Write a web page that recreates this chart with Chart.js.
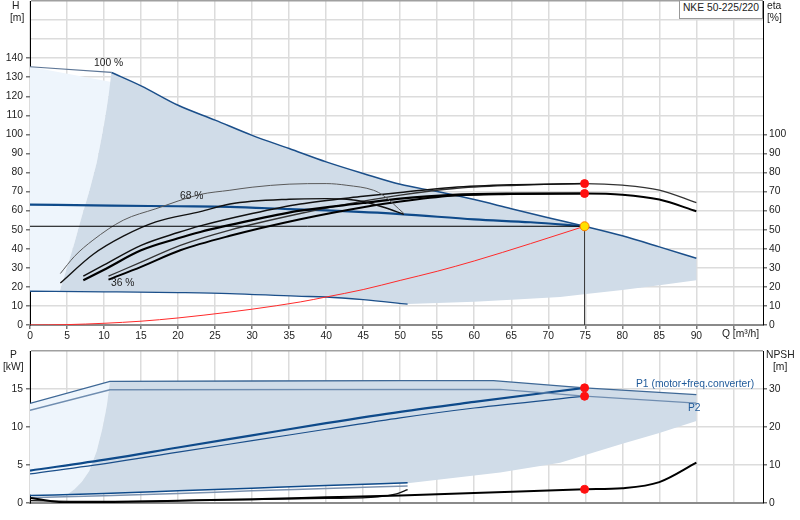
<!DOCTYPE html>
<html><head><meta charset="utf-8">
<script src="https://cdn.jsdelivr.net/npm/chart.js"></script>
<style>
html,body{margin:0;padding:0;background:#fff;}
#wrap{position:relative;width:800px;height:520px;overflow:hidden;font-family:"Liberation Sans",Arial,sans-serif;font-size:10.3px;color:#222;}
canvas{position:absolute;left:0;}
.t{position:absolute;white-space:nowrap;line-height:12px;}
#title{position:absolute;left:679px;top:0;width:84px;height:19px;box-sizing:border-box;border:1px solid #999;background:#fff;text-align:center;line-height:14px;}
</style></head><body>
<div id="wrap">
<canvas id="cTop" width="800" height="345" style="top:0;width:800px;height:345px"></canvas>
<canvas id="cBot" width="800" height="180" style="top:340px;width:800px;height:180px"></canvas>
<div id="title">NKE 50-225/220</div>
<div class="t" style="left:12px;top:0px">H</div>
<div class="t" style="left:10px;top:12px">[m]</div>
<div class="t" style="left:767px;top:0px">eta</div>
<div class="t" style="left:767px;top:12px">[%]</div>
<div class="t" style="left:722px;top:328px">Q [m³/h]</div>
<div class="t" style="left:94px;top:57px">100 %</div>
<div class="t" style="left:180px;top:190px">68 %</div>
<div class="t" style="left:111px;top:277px">36 %</div>
<div class="t" style="left:10px;top:349px">P</div>
<div class="t" style="left:3px;top:361px">[kW]</div>
<div class="t" style="left:766px;top:349px">NPSH</div>
<div class="t" style="left:773px;top:361px">[m]</div>
<div class="t" style="left:636px;top:378px;color:#1f5a9a">P1 (motor+freq.converter)</div>
<div class="t" style="left:688px;top:402px;color:#1f5a9a">P2</div>
</div>
<script>
// ---------- data: top chart (H / eta vs Q) ----------
const Q_MAX = 99;
const Q_LAST_LABEL = 90;
const H_MAX_START = [[0,135.5],[11,132.5]];
const H_MAX = [[11,132.5],[15,125.5],[20,115.3],[25,107.5],[30,99.5],[35,92.6],[40,85.6],[45,79.5],[50,73.8],[55,70],[60,65.8],[65,61],[70,56.3],[74.9,51.8],[80,46.8],[85,41],[90,35]];
const H_68 = [[0,63.2],[11,62.6],[20,62.3],[27,62],[35,60.8],[40,60.1],[50,58.2],[60,55.4],[67.6,53.9],[74.9,51.8]];
const H_36 = [[0,17.7],[10,17.4],[20,17],[27,16.5],[36,15.1],[40,14.7],[45,13.3],[51,11]];
const SYSTEM = [[0,0],[5,0.2],[10,0.9],[15,2],[20,3.7],[27,6.8],[30,8.3],[36.5,12.1],[40,14.7],[45,18.6],[50,23.4],[55,28.2],[60,33.6],[67.6,42.7],[74.9,51.8]];
const DUTY = [[74.9,51.8]];
const DUTY_H_LINE = [[0,51.8],[74.9,51.8]];
const DUTY_Q_LINE = [[74.9,0],[74.9,51.8]];
const ETA_36_PUMP = [[4.1,27],[6,36],[8.5,44.5],[12.6,55],[17,61],[23,68.5],[27,70.7],[30,72.3],[35,73.9],[40,74.2],[42.8,73.3],[46.4,70.7],[47.7,68],[50.5,58.5]];
const ETA_36_TOT = [[4.1,22],[8.5,37],[12.6,46.6],[17,54.1],[23,59.5],[27,63.5],[35,66],[40,66.3],[42.8,66],[45,64.8],[48,61.5],[50.5,58]];
const ETA_68_PUMP = [[7.2,25.6],[10,31.5],[15,41.8],[20,48.5],[23,52],[30,58.5],[36.5,63.5],[45,67.5],[50,69.5],[57,72.2],[65,73.6],[74.9,74.2]];
const ETA_68_TOT = [[7.2,23.5],[10,29],[15,39.2],[20,45.5],[23,48.8],[30,55],[36.5,60],[45,64],[50,66.3],[57,68.3],[65,68.9],[74.9,69]];
const ETA_MAX_PUMP = [[10.6,25.6],[15,33],[20.3,41.8],[27,49.8],[36.5,58.5],[45,65],[50,68.2],[57,71.5],[65,73.2],[74.9,74.2],[80,73.4],[85,70.8],[90,64.2]];
const ETA_MAX_TOT = [[10.6,23.8],[15,30.5],[20.3,39.2],[27,46.8],[36.5,55.5],[45,61.8],[50,64.8],[57,67.8],[65,68.7],[74.9,69],[80,68.4],[85,65.8],[90,59.7]];
const ETA_DUTY = [[74.9,74.2],[74.9,69]];
const AREA_LOW = [[90,23.5],[85,20.8],[80,18.3],[75.7,16.5],[71.6,14.7],[65,13.2],[60,12.2],[51,11]];
const AREA_LEFT = [[4,17.5],[5,30],[6,43],[7,57],[8,70],[9,85],[10,105],[10.6,120],[11,132.5]];
const H_TICK_LAST = 140, ETA_TICK_LAST = 100, H_AXIS_MAX = 170;

// ---------- data: bottom chart (P / NPSH vs Q) ----------
const P1_MAX = [[0,13.1],[10.8,16],[30,16.05],[50,16.1],[62.6,16.1],[74.9,15.15],[90,14.25]];
const P2_MAX = [[0,12.2],[10.8,14.9],[63.5,14.95],[74.9,14.05],[90,13.15]];
const P1_68 = [[0,4.26],[10.8,5.8],[20,7.3],[30,8.9],[40,10.5],[50,12.0],[60,13.3],[74.9,15.15]];
const P2_68 = [[0,3.83],[10.8,5.27],[20,6.7],[30,8.2],[40,9.7],[50,11.2],[60,12.5],[74.9,14.05]];
const P1_36 = [[0,0.98],[10,1.25],[20,1.6],[30,1.95],[40,2.3],[51,2.65]];
const P2_36 = [[0,0.7],[10,0.95],[20,1.25],[30,1.6],[40,1.9],[51,2.25]];
const NPSH_MAX = [[0,1.3],[5.4,0.1],[9.5,0.2],[20,0.6],[30,1.0],[40,1.5],[50,2.0],[60,2.6],[70,3.3],[74.9,3.6],[80,3.9],[85,5.5],[90,10.6]];
const NPSH_36 = [[0,0.6],[10,0.4],[20,0.6],[30,0.9],[40,1.2],[47,1.6],[49.5,2.4],[51,3.5]];
const P_DUTY = [[74.9,15.15],[74.9,14.05]];
const NPSH_DUTY = [[74.9,3.6]];
const P_AREA_LOW = [[90,10.8],[85,9.2],[80,7.8],[71.6,5.3],[63.5,4.0],[51,2.6]];
const P_AREA_LEFT = [[5,1.1],[6,1.8],[7,2.8],[8,4.2],[9,6.8],[9.9,10.3],[10.4,13],[10.8,16]];
const P_AXIS_MAX = 20, P_TICK_LAST = 15, NPSH_AXIS_MAX = 40, NPSH_TICK_LAST = 30;

// ---------- helpers ----------
const pts = a => a.map(p => ({x:p[0], y:p[1]}));
const FONT = {family:'"Liberation Sans", Arial, sans-serif', size:10.3};
const GRID = '#dcdcdc';
const BLUE = '#1b4f8a', BLUE2 = '#0e4a8a';
function ln(data, color, width, axis, smooth) {
  return {data:pts(data), borderColor:color, borderWidth:width, pointRadius:0, fill:false,
    tension:0, cubicInterpolationMode: smooth ? 'monotone' : 'default', yAxisID:axis, order:5};
}
function area(data, color, axis) {
  return {data:pts(data), borderWidth:0, borderColor:'rgba(0,0,0,0)', backgroundColor:color,
    fill:'shape', pointRadius:0, tension:0, yAxisID:axis, order:10};
}
function dots(data, bg, border, r, axis) {
  return {data:pts(data), showLine:false, pointRadius:r, pointBackgroundColor:bg, pointBorderColor:border,
    pointBorderWidth:1, yAxisID:axis, order:0};
}
function xScale(labels, h) {
  return {type:'linear', min:0, max:Q_MAX, position:'bottom',
    ticks:{stepSize:5, includeBounds:false, autoSkip:false, maxRotation:0, font:FONT, color:'#222', padding:1,
      display:labels, callback:v => (v <= Q_LAST_LABEL ? v : '')},
    grid:{color:GRID, lineWidth:1.5, drawTicks:labels, tickLength:4, tickColor:'#777'},
    border:{color:'#8a8a8a', width:2},
    afterFit:s => { s.height = h; s.paddingLeft = 0; s.paddingRight = 0; }};
}
function yScale(pos, max, step, last, width, onArea) {
  return {type:'linear', position:pos, min:0, max:max,
    ticks:{stepSize:step, includeBounds:false, autoSkip:false, font:FONT, color:'#222', padding:pos === 'left' ? 3 : 2,
      callback:v => (v <= last ? v : '')},
    grid:{drawOnChartArea:onArea, lineWidth:1.5, tickLength:4,
      color:c => (c.tick && c.tick.value === max ? '#a0a0a0' : GRID),
      tickColor:c => (c.tick && c.tick.value > last ? 'rgba(0,0,0,0)' : '#777')},
    border:{color:'#000', width:1},
    afterFit:s => { s.width = width; s.paddingTop = 0; s.paddingBottom = 0; }};
}
const common = {responsive:false, animation:false, events:[],
  plugins:{legend:{display:false}, tooltip:{enabled:false}}};

// ---------- top chart ----------
const topArea = [...H_MAX, ...AREA_LOW, ...H_36.slice().reverse().filter(p => p[0] < 51 && p[0] >= 4), ...AREA_LEFT];
const topLight = [[0,17.7], ...AREA_LEFT.slice(0, -1), [11,127.5], [0,135.5]];
new Chart(document.getElementById('cTop'), {
  type:'line',
  data:{datasets:[
    dots(DUTY, '#ffe100', '#ff7a00', 4.5, 'y'),
    dots(ETA_DUTY, '#ff1010', '#ff1010', 4, 'y2'),
    ln(SYSTEM, '#ff2a2a', 1, 'y', true),
    ln(DUTY_H_LINE, '#000', 1, 'y', false),
    ln(DUTY_Q_LINE, '#333', 1, 'y', false),
    ln(ETA_36_PUMP, '#5a5a5a', 1, 'y2', true),
    ln(ETA_36_TOT, '#111', 1.4, 'y2', true),
    ln(ETA_68_PUMP, '#111', 1.5, 'y2', true),
    ln(ETA_68_TOT, '#000', 2.2, 'y2', true),
    ln(ETA_MAX_PUMP, '#333', 1.3, 'y2', true),
    ln(ETA_MAX_TOT, '#000', 2, 'y2', true),
    ln(H_MAX_START, '#5d7696', 1.2, 'y', false),
    ln(H_MAX, BLUE, 1.5, 'y', true),
    ln(H_68, BLUE2, 2.2, 'y', true),
    ln(H_36, BLUE, 1.3, 'y', true),
    area(topArea, '#d0dce8', 'y'),
    area(topLight, '#eef5fc', 'y')
  ]},
  options:Object.assign({}, common, {
    layout:{autoPadding:false, padding:{top:1, left:0, right:0, bottom:0}},
    scales:{
      x:xScale(true, 20),
      y:yScale('left', H_AXIS_MAX, 10, H_TICK_LAST, 30, true),
      y2:yScale('right', H_AXIS_MAX, 10, ETA_TICK_LAST, 37, false)
    }})
});

// ---------- bottom chart ----------
const botArea = [...P1_MAX.filter(p => p[0] >= 10.8), ...P_AREA_LOW, ...P1_36.slice().reverse().filter(p => p[0] < 51 && p[0] > 5), ...P_AREA_LEFT];
const botLight = [[0,1.1], ...P_AREA_LEFT, [0,13.1]];
new Chart(document.getElementById('cBot'), {
  type:'line',
  data:{datasets:[
    dots(P_DUTY, '#ff1010', '#ff1010', 4, 'y'),
    dots(NPSH_DUTY, '#ff1010', '#ff1010', 4, 'y2'),
    ln(NPSH_MAX, '#000', 2, 'y2', true),
    ln(NPSH_36, '#111', 1.3, 'y2', true),
    ln(P1_MAX, '#3e6896', 1.3, 'y', false),
    ln(P2_MAX, '#6f8db0', 1.3, 'y', false),
    ln(P1_68, BLUE2, 2.2, 'y', true),
    ln(P2_68, BLUE, 1.2, 'y', true),
    ln(P1_36, BLUE2, 1.5, 'y', true),
    ln(P2_36, '#7d93b0', 1.5, 'y', true),
    area(botArea, '#d0dce8', 'y'),
    area(botLight, '#eef5fc', 'y')
  ]},
  options:Object.assign({}, common, {
    layout:{autoPadding:false, padding:{top:11, left:0, right:0, bottom:0}},
    scales:{
      x:xScale(false, 17),
      y:yScale('left', P_AXIS_MAX, 5, P_TICK_LAST, 30, true),
      y2:yScale('right', NPSH_AXIS_MAX, 10, NPSH_TICK_LAST, 37, false)
    }})
});
</script>
</body></html>
